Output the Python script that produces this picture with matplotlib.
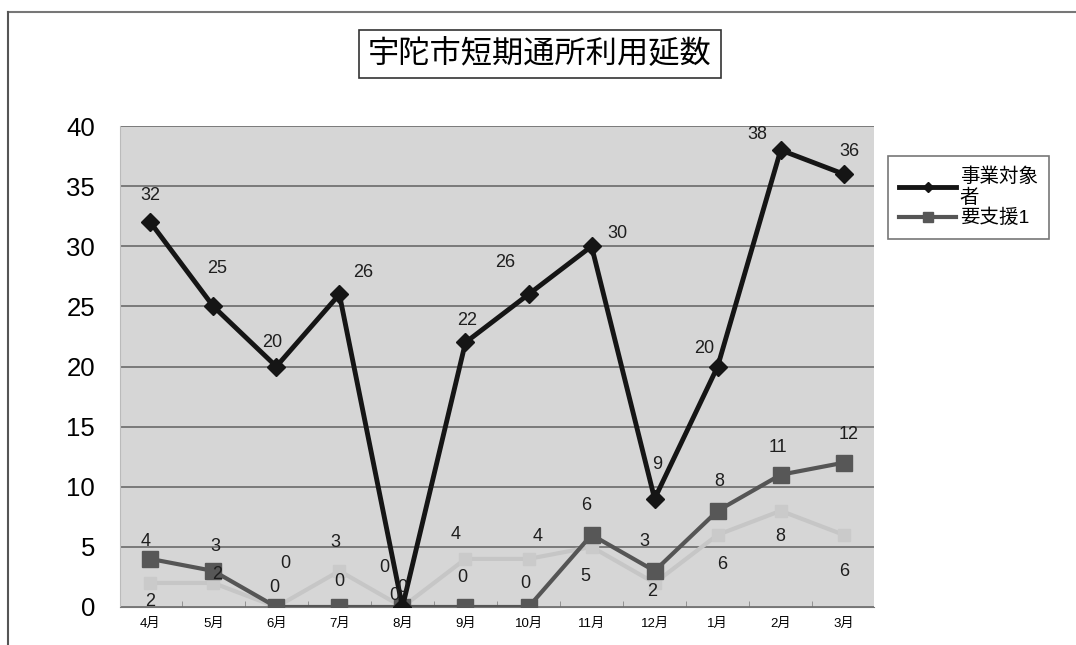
import matplotlib.pyplot as plt
import numpy as np

plt.rcParams['font.family'] = ['Liberation Sans', 'Noto Sans CJK JP', 'DejaVu Sans']

# %% data
months = ['4月', '5月', '6月', '7月', '8月', '9月', '10月', '11月', '12月', '1月', '2月', '3月']
jigyo = [32, 25, 20, 26, 0, 22, 26, 30, 9, 20, 38, 36]        # 事業対象者
shien1 = [4, 3, 0, 0, 0, 0, 0, 6, 3, 8, 11, 12]              # 要支援1
shien2 = [2, 2, 0, 3, 0, 4, 4, 5, 2, 6, 8, 6]                # third series (legend cut off)

# label offsets in pixels (dx, dy)
off1 = [(0, 27), (4, 38), (-4, 24), (24, 22), (0, 20), (2, 22), (-23, 32), (26, 13), (3, 34), (-13, 18), (-23, 16), (6, 23)]
off2 = [(-5, 17), (2, 24), (-2, 20), (0, 25), (-8, 12), (-3, 29), (-3, 24), (-5, 29), (-10, 29), (2, 29), (-3, 27), (5, 28)]
off3 = [(0, -19), (4, 8), (9, 44), (-4, 28), (-18, 40), (-10, 24), (9, 22), (-6, -30), (-2, -9), (5, -30), (0, -26), (0, -37)]

# %%
fig = plt.figure(figsize=(10.76, 6.45), dpi=100)
ax = fig.add_axes([120 / 1076, 38 / 645, 754 / 1076, 481 / 645])
ax.set_facecolor('#d6d6d6')

x = np.arange(len(months))
ax.plot(x, shien2, color='#c6c6c6', lw=3, marker='s', ms=9, mfc='#cacaca', mec='#cacaca', zorder=3)
ax.plot(x, shien1, color='#555555', lw=3, marker='s', ms=12, mfc='#575757', mec='#575757', zorder=4,
        label='要支援1')
ax.plot(x, jigyo, color='#151515', lw=3.5, marker='D', ms=9, mfc='#151515', mec='#151515', zorder=5,
        label='事業対象\n者')

for vals, offs in [(jigyo, off1), (shien1, off2), (shien2, off3)]:
    for i, v in enumerate(vals):
        ax.annotate(str(v), (i, v), xytext=offs[i], textcoords='offset pixels',
                    ha='center', va='center', fontsize=13, color='#1e1e1e', zorder=6)

ax.set_ylim(0, 40)
ax.set_xlim(-0.48, 11.48)
ax.set_yticks(range(0, 41, 5))
ax.set_yticklabels([str(v) for v in range(0, 41, 5)], fontsize=18.5)
ax.set_xticks(x)
ax.set_xticklabels(months, fontsize=9.5)
ax.tick_params(axis='y', length=0, pad=18)
ax.tick_params(axis='x', length=0, pad=8)
ax.set_xticks(x[:-1] + 0.5, minor=True)
ax.tick_params(axis='x', which='minor', direction='in', length=4, color='#888888')
ax.grid(axis='y', color='#6a6a6a', lw=1.2)
ax.set_axisbelow(True)
for s in ['top', 'right']:
    ax.spines[s].set_visible(False)
ax.spines['left'].set_color('#bbbbbb')
ax.spines['bottom'].set_color('#777777')

h, l = ax.get_legend_handles_labels()
leg = fig.legend(h[::-1], l[::-1], loc='upper left', bbox_to_anchor=(878 / 1076, 1 - 146 / 645),
                 fontsize=14, frameon=True, fancybox=False, edgecolor='#555555',
                 handlelength=2.9, labelspacing=0.1, borderpad=0.6, markerscale=0.6,
                 handletextpad=0.2)
leg.get_frame().set_linewidth(1.2)

fig.text(540 / 1076, 1 - 54 / 645, '宇陀市短期通所利用延数', ha='center', va='center', fontsize=22.5,
         bbox=dict(boxstyle='square,pad=0.3', fc='white', ec='#333333', lw=1.2))

# outer frame of the scanned chart
fig.add_artist(plt.Line2D([8 / 1076, 1], [1 - 12 / 645, 1 - 12 / 645], color='#777777', lw=1.5))
fig.add_artist(plt.Line2D([8 / 1076, 8 / 1076], [0, 1 - 12 / 645], color='#555555', lw=1.5))

fig.savefig('out.png', dpi=100)
